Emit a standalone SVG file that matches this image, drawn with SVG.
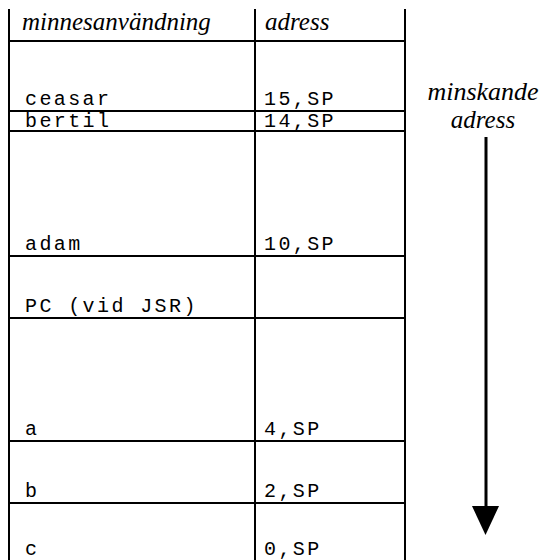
<svg xmlns="http://www.w3.org/2000/svg" width="540" height="560" viewBox="0 0 540 560">
<style>
.grid line{stroke:#000;stroke-width:2}
.it{font-family:"Liberation Serif",serif;font-style:italic;font-size:25px;fill:#000}
.mo{font-family:"Liberation Mono",monospace;font-size:20px;letter-spacing:2.4px;fill:#000}
</style>
<rect width="540" height="560" fill="#fff"/>
<g id="table" class="grid">
<line x1="9" y1="9" x2="9" y2="560"/>
<line x1="255" y1="9" x2="255" y2="560"/>
<line x1="405" y1="9" x2="405" y2="560"/>
<line x1="8" y1="41" x2="406" y2="41"/>
<line x1="8" y1="111" x2="406" y2="111"/>
<line x1="8" y1="131" x2="406" y2="131"/>
<line x1="8" y1="256" x2="406" y2="256"/>
<line x1="8" y1="318" x2="406" y2="318"/>
<line x1="8" y1="441" x2="406" y2="441"/>
<line x1="8" y1="503" x2="406" y2="503"/>
</g>
<g id="header">
<text class="it" x="22" y="30">minnesanvändning</text>
<text class="it" x="265" y="30">adress</text>
</g>
<g id="rows">
<text class="mo" x="25" y="105">ceasar</text><text class="mo" x="264" y="105">15,SP</text>
<text class="mo" x="25" y="127">bertil</text><text class="mo" x="264" y="127">14,SP</text>
<text class="mo" x="25" y="250">adam</text><text class="mo" x="264" y="250">10,SP</text>
<text class="mo" x="25" y="312">PC (vid JSR)</text>
<text class="mo" x="25" y="435">a</text><text class="mo" x="264" y="435">4,SP</text>
<text class="mo" x="25" y="497">b</text><text class="mo" x="264" y="497">2,SP</text>
<text class="mo" x="25" y="555">c</text><text class="mo" x="264" y="555">0,SP</text>
</g>
<g id="label">
<text class="it" x="483" y="100" text-anchor="middle" style="font-size:26px">minskande</text>
<text class="it" x="483" y="128" text-anchor="middle">adress</text>
</g>
<g id="connectors">
<line x1="486" y1="137" x2="486" y2="510" stroke="#000" stroke-width="3"/>
<polygon points="472,506 499,506 485.5,535" fill="#000"/>
</g>
</svg>
